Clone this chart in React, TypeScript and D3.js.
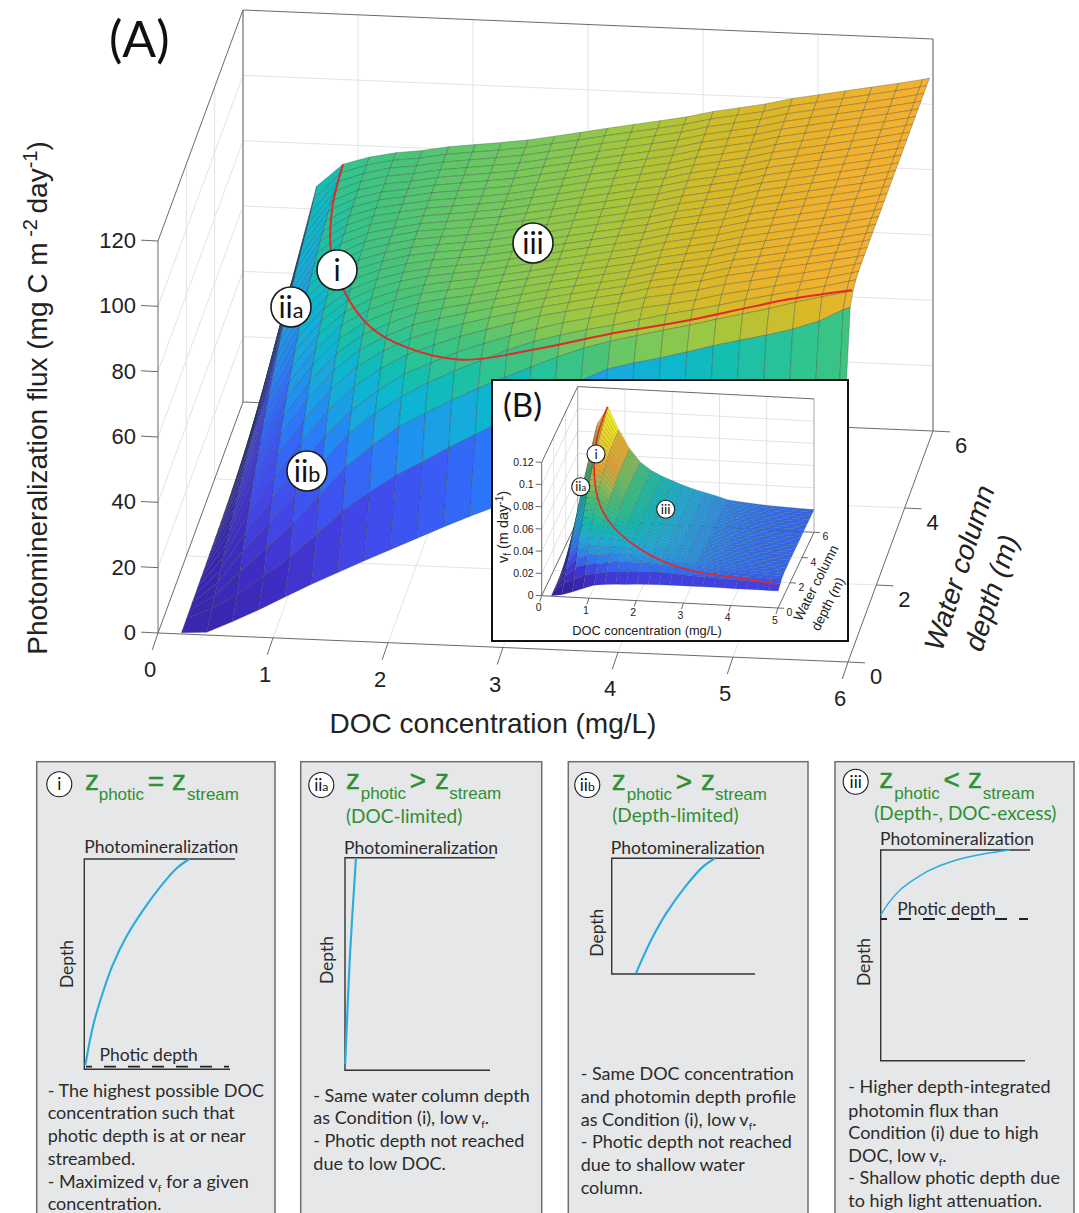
import React from 'react';
import * as d3 from 'd3';

const SANS = '"Liberation Sans", Arial, sans-serif';
const BODY = 'Lato, "Open Sans", sans-serif';
const GREEN = '#2f8f35';

// water column depth of every mesh row (m)
const DEPTHS = [0.03, 0.4, 0.6, 0.8, 1, 1.2, 1.4, 1.6, 1.8, 2, 2.2, 2.4, 2.6, 2.8, 3, 3.2, 3.4, 3.6, 3.8, 4, 4.2, 4.4, 4.6, 4.8, 5, 5.2, 5.4, 5.6, 5.8, 6];
const DOC_GRID = [0.2, 0.42, 0.64, 0.87, 1.1, 1.33, 1.56, 1.79, 2.02, 2.25, 2.48, 2.71, 2.94, 3.17, 3.4, 3.63, 3.86, 4.09, 4.32, 4.55, 4.78, 5.01, 5.24, 5.47, 5.7, 5.91, 5.97];

// flux per DOC column, one value per depth row. A column stops once it is on
// its plateau, the last value then holds for the deeper rows.
const FLUX_COLS = [
  [0, 0.1, 0.2, 0.3, 0.3, 0.4, 0.5, 0.5, 0.6, 0.7, 0.7, 0.8, 0.9, 0.9, 1, 1.1, 1.1, 1.2, 1.3, 1.3, 1.4, 1.5, 1.5, 1.6, 1.7, 1.7, 1.8, 1.9, 1.9, 2],
  [0.5, 3.4, 5, 6.6, 8.1, 9.7, 11.1, 12.6, 14, 15.4, 16.7, 18, 19.3, 20.5, 21.8, 23, 24.1, 25.3, 26.4, 27.4, 28.5, 29.5, 30.5, 31.5, 32.5, 33.4, 34.3, 35.2, 36.1, 37],
  [4, 8, 12.8, 16.6, 20.2, 23.6, 26.8, 29.7, 32.5, 35.2, 37.7, 40, 42.2, 44.3, 46.3, 48.1, 49.9, 51.5, 53.1, 54.5, 55.9, 57.2, 58.4, 59.5, 60.6, 61.6, 62.6, 63.8, 65.3, 67],
  [8, 14.1, 20.2, 25.7, 30.7, 35.2, 39.3, 43, 46.3, 49.3, 52, 54.5, 56.7, 58.8, 60.6, 62.3, 63.8, 65.1, 66.3, 67.4, 68.4, 69.4, 70.2, 70.9, 71.6, 72.2, 72.8, 73.3, 73.7, 74.1],
  [12.3, 20.1, 28.1, 35, 40.9, 46, 50.4, 54.2, 57.4, 60.2, 62.6, 64.7, 66.5, 68, 69.3, 70.5, 71.4, 72.3, 73, 73.6, 74.2, 74.6, 75, 75.4, 75.7, 75.9, 76.2, 76.3, 76.5, 76.6],
  [16.5, 27.5, 37, 44.5, 50.5, 55.7, 60, 63.4, 66.2, 68.5, 70.4, 71.9, 73.1, 74.1, 74.9, 75.6, 76.1, 76.6, 76.9, 77.2, 77.5, 77.7, 77.8, 77.9, 78, 78.1, 78.2, 78.3],
  [20.5, 35, 46, 54, 58.7, 63.6, 67.3, 70.2, 72.4, 74, 75.3, 76.3, 77.1, 77.6, 78.1, 78.4, 78.7, 78.9, 79, 79.1, 79.2, 79.3],
  [24.4, 41, 53, 60.5, 65, 69.5, 72.5, 74.7, 76.3, 77.6, 78.5, 79.2, 79.7, 80, 80.3, 80.5, 80.6, 80.7, 80.8],
  [28.2, 46.5, 59, 66, 70.5, 74.1, 76.7, 78.4, 79.5, 80.3, 80.9, 81.2, 81.5, 81.6, 81.8],
  [32, 51, 63.5, 70.5, 74.2, 77.3, 79.4, 80.7, 81.5, 82.1, 82.4, 82.6, 82.8],
  [35.8, 55.7, 67.8, 74.5, 77.8, 80.3, 81.8, 82.7, 83.2, 83.5, 83.7, 83.9],
  [39.4, 60, 71.8, 78, 80.8, 82.8, 84, 84.7, 85, 85.2, 85.4],
  [42.8, 64.5, 75.5, 81.5, 83.5, 85.1, 86, 86.5, 86.7, 86.9],
  [46, 69.5, 79, 84.5, 86, 87.6, 88, 88.3, 88.5],
  [49, 74, 82.5, 86.8, 88.2, 89.3, 89.7, 90],
  [52, 78, 85.5, 88.8, 90, 91, 91.5],
  [55, 81.8, 88, 90.5, 91.8, 92.6, 93],
  [58, 84, 90, 92.5, 93.8, 94.6, 95],
  [60.5, 85.9, 92, 94.5, 95.3, 96, 96.5],
  [63, 88, 93.9, 96.2, 96.9, 97.6, 98],
  [65.5, 90.3, 96, 98, 98.9, 99.6, 100],
  [68, 92.3, 98, 100, 100.5, 101.1, 101.5],
  [70, 94.2, 100, 101.8, 102.2, 102.7, 103],
  [72, 96.4, 102.3, 103.5, 103.9, 104.2, 104.5],
  [74, 99.2, 104.3, 105.2, 105.5, 105.8, 106],
  [76, 103, 106, 107, 107.2, 107.4, 107.5],
  [76.5, 103.8, 106.5, 107.5, 107.8, 108],
];

// photic depth = stream depth line on the main surface
const RED_DOC = [0.87, 0.9, 1, 1.22, 1.6, 1.98, 2.53, 3.24, 3.83, 4.5, 4.97, 5.43, 5.98];
const RED_DEPTH = [6, 5, 4.1, 3.2, 2, 1.4, 0.8, 0.7, 0.6, 0.54, 0.53, 0.53, 0.45];
const RED_FLUX = [74, 72.6, 70.2, 69, 72.5, 74, 78, 83.7, 90, 95.7, 100, 104, 108.5];

const DOC_TICKS = [0, 1, 2, 3, 4, 5, 6];
const DEPTH_TICKS = [0, 2, 4, 6];
const FLUX_TICKS = [0, 20, 40, 60, 80, 100, 120];

// inset: vf in 10^-3 m/day, same depth rows, DOC columns up to 5 mg/L
const VF_DOC = DOC_GRID.slice(0, 21).concat([5]);
const VF_COLS = [
  [0, 0.3, 0.4, 0.5, 0.7, 0.8, 0.9, 1.1, 1.2, 1.3, 1.5, 1.6, 1.7, 1.9, 2, 2.1, 2.3, 2.4, 2.5, 2.7, 2.8, 2.9, 3.1, 3.2, 3.3, 3.5, 3.6, 3.7, 3.9, 4],
  [1.5, 8.1, 11.9, 15.7, 19.3, 23.1, 26.4, 30, 33.3, 36.7, 39.8, 42.9, 46, 48.8, 51.9, 54.8, 57.4, 60.2, 62.9, 65.2, 67.9, 70.2, 72.6, 75, 77.4, 79.5, 81.7, 83.8, 86, 88.1],
  [4.5, 11.5, 20, 25.9, 31.6, 36.9, 41.9, 46.4, 50.8, 55, 58.9, 62.5, 65.9, 69.2, 72.3, 75.2, 78, 80.5, 83, 85.2, 87.3, 89.4, 91.3, 93, 94.7, 96.3, 97.8, 99.2, 101, 103],
  [8, 16.2, 23.2, 29.5, 35.3, 40.5, 45.2, 49.4, 53.2, 56.7, 59.8, 62.6, 65.2, 67.6, 69.7, 71.6, 73.3, 74.8, 76.2, 77.5, 78.6, 79.6, 80.4, 81, 81.6, 82, 82.4, 82.7, 82.9, 83],
  [11.4, 17.8, 24.4, 30.4, 35.6, 40, 43.8, 47.2, 50, 52.4, 54.5, 56.3, 57.9, 59.2, 60.3, 61.3, 62.1, 62.9, 63.5, 64, 64.6, 64.9, 65.3, 65.6, 65.9, 66, 66.3, 66.4, 66.5, 66.6],
  [12.6, 19.5, 25.8, 31.1, 35.6, 39.3, 42.3, 44.7, 46.7, 48.3, 49.6, 50.7, 51.5, 52.2, 52.8, 53.3, 53.7, 54, 54.2, 54.4, 54.6, 54.8, 54.9, 55],
  [13.3, 21, 27.5, 32.5, 35.5, 38.5, 40.7, 42.5, 43.8, 44.8, 45.6, 46.2, 46.6, 47, 47.3, 47.4, 47.6, 47.7, 47.9, 48],
  [13.8, 21.5, 27.2, 31.5, 34.4, 36.8, 38.6, 39.9, 40.8, 41.5, 42, 42.4, 42.6, 43, 43.3],
  [14.4, 22, 27.6, 31.5, 33.8, 35.7, 37, 37.8, 38.3, 38.7, 39, 39.3, 39.5],
  [14.8, 22, 27.3, 30.4, 32.2, 33.5, 34.5, 35, 35.4, 35.8, 36],
  [15, 22, 26.5, 29.3, 30.6, 31.6, 32.1, 32.5, 32.8, 33],
  [15.1, 21.4, 25.5, 27.8, 28.9, 29.6, 30, 30.3, 30.5],
  [15.2, 20.8, 24.5, 26.4, 27.2, 27.7, 28, 28.2],
  [15.2, 20.3, 23.2, 24.3, 24.8, 25, 25.2, 25.3],
  [15.2, 20, 22.4, 23.4, 23.8, 24, 24.1, 24.2],
  [15.2, 19.5, 21.5, 22.5, 22.9, 23, 23.2, 23.3],
  [15.1, 19, 20.9, 21.7, 22.1, 22.3, 22.5],
  [15, 18.6, 20.3, 21.1, 21.5, 21.8, 21.9],
  [15, 18.2, 19.9, 20.7, 21.1, 21.4, 21.5],
  [15, 17.9, 19.6, 20.4, 20.8, 21, 21.1],
  [15, 17.6, 19.3, 20.1, 20.5, 20.7, 20.8],
  [15, 17.3, 19, 19.8, 20.1, 20.3, 20.4],
];
const VF_RED_DOC = [0.63, 0.62, 0.8, 1.1, 1.4, 1.95, 2.5, 3.2, 4.05, 4.95];
const VF_RED_DEPTH = [6, 4.3, 2.46, 1.05, 0.9, 0.47, 0.56, 0.6, 0.57, 0.41];
const VF_RED_VALUE = [103.3, 94, 82.5, 72, 55, 43, 29.9, 21.9, 18.7, 16.6];
const INSET_DOC_TICKS = [0, 1, 2, 3, 4, 5];
const VF_TICKS = [0, 20, 40, 60, 80, 100, 120];
const VF_TICK_LABELS = ['0', '0.02', '0.04', '0.06', '0.08', '0.1', '0.12'];

const fluxColor = d3.scaleLinear<string>()
  .domain([0, 10, 20, 32, 40, 46, 54, 60, 65, 72, 78, 84, 90, 96, 102, 108])
  .range(['#3a27b0', '#402fc8', '#4345e6', '#3a5cf5', '#2c78fb', '#2090f0', '#18a8e0', '#0cb6d0', '#12bdb4', '#30c48e', '#48c47a', '#7cc858', '#a9c63a', '#d6ba28', '#edb22c', '#f6b030']);
const vfColor = d3.scaleLinear<string>()
  .domain([0, 10, 15, 20, 27, 35, 45, 52, 60, 70, 78, 88, 100])
  .range(['#33219f', '#3f2fc8', '#4040e0', '#3563ee', '#2c8ce0', '#20a8d8', '#10b8b0', '#2cbd8c', '#4cb870', '#9fb84a', '#e0a030', '#e8c428', '#f2ec1e']);

const held = (col: number[], row: number) => col[Math.min(row, col.length - 1)];
const seg = d3.line();

function Plot3D({ g, docs, cols, color, red, ticks }: any) {
  const sx = d3.scaleLinear().domain([0, g.xMax]).range([0, 1]);
  const sy = d3.scaleLinear().domain([0, g.yMax]).range([0, 1]);
  const sz = d3.scaleLinear().domain([0, g.zMax]).range([0, 1]);
  const p = (x: number, y: number, z: number): [number, number] => [
    g.origin[0] + sx(x) * g.ex[0] + sy(y) * g.ey[0],
    g.origin[1] + sx(x) * g.ex[1] + sy(y) * g.ey[1] + sz(z) * g.ez,
  ];
  const { xMax: X, yMax: Y, zMax: Z } = g;
  const gridLines: [number, number, number][][] = [];
  ticks.x.filter((t: number) => t > 0 && t < X).forEach((t: number) => {
    gridLines.push([[t, 0, 0], [t, Y, 0], [t, Y, Z]]);
  });
  ticks.y.filter((t: number) => t > 0 && t < Y).forEach((t: number) => {
    gridLines.push([[X, t, 0], [0, t, 0], [0, t, Z]]);
  });
  ticks.z.filter((t: number) => t > 0 && t < Z).forEach((t: number) => {
    gridLines.push([[0, 0, t], [0, Y, t], [X, Y, t]]);
  });
  const pathOf = (pts: [number, number, number][]) => seg(pts.map((q) => p(q[0], q[1], q[2])));

  // back rows first, then left to right, so nearer faces cover farther ones
  const faces: { d: string; fill: string }[] = [];
  for (let j = DEPTHS.length - 2; j >= 0; j--) {
    for (let i = 0; i < docs.length - 1; i++) {
      const corners = [
        p(docs[i], DEPTHS[j], held(cols[i], j)),
        p(docs[i + 1], DEPTHS[j], held(cols[i + 1], j)),
        p(docs[i + 1], DEPTHS[j + 1], held(cols[i + 1], j + 1)),
        p(docs[i], DEPTHS[j + 1], held(cols[i], j + 1)),
      ];
      faces.push({ d: seg(corners) + 'Z', fill: color(held(cols[i], j)) });
    }
  }
  const redPath = d3.line().curve(d3.curveCatmullRom.alpha(0.5))(red.doc.map((d: number, i: number) => p(d, red.depth[i], red.value[i])));

  return (
    <g fontFamily={SANS}>
      {gridLines.map((l, i) => <path key={i} d={pathOf(l)!} fill="none" stroke="#e2e3e4" strokeWidth={1} />)}
      <path d={pathOf([[0, Y, 0], [0, Y, Z]])!} stroke="#a9a9a9" strokeWidth={g.backWidth} fill="none" />
      <path d={pathOf([[X, Y, 0], [X, Y, Z]])!} stroke="#a9a9a9" strokeWidth={g.backWidth} fill="none" />
      <path d={pathOf([[0, 0, 0], [0, 0, Z], [0, Y, Z], [X, Y, Z]])!} stroke="#6a6a6a" strokeWidth={1} fill="none" />
      <path d={pathOf([[0, Y, 0], [0, 0, 0], [X, 0, 0], [X, Y, 0], [0, Y, 0]])!} stroke="#6a6a6a" strokeWidth={1} fill="none" />
      {ticks.x.map((t: number) => {
        const a = p(t, 0, 0);
        return (
          <g key={t}>
            <line x1={a[0]} y1={a[1]} x2={a[0] - g.tick * 0.34} y2={a[1] + g.tick} stroke="#6a6a6a" />
            <text x={a[0] + g.xLabel[0]} y={a[1] + g.xLabel[1]} fontSize={g.font} textAnchor="middle" fill="#222">{t}</text>
          </g>
        );
      })}
      {ticks.y.map((t: number) => {
        const a = p(X, t, 0);
        return (
          <g key={t}>
            <line x1={a[0]} y1={a[1]} x2={a[0] + g.tick} y2={a[1] + g.tick * 0.05} stroke="#6a6a6a" />
            <text x={a[0] + g.yLabel[0]} y={a[1] + g.yLabel[1]} fontSize={g.font} textAnchor="middle" fill="#222">{t}</text>
          </g>
        );
      })}
      {ticks.z.map((t: number, i: number) => {
        const a = p(0, 0, t);
        return (
          <g key={t}>
            <line x1={a[0]} y1={a[1]} x2={a[0] - g.tick} y2={a[1] - g.tick * 0.05} stroke="#6a6a6a" />
            <text x={a[0] + g.zLabel[0]} y={a[1] + g.zLabel[1]} fontSize={g.font} textAnchor="end" fill="#222">{ticks.zLabels[i]}</text>
          </g>
        );
      })}
      {faces.map((f, i) => <path key={i} d={f.d} fill={f.fill} stroke="#2b3b3b" strokeOpacity={0.5} strokeWidth={g.mesh} />)}
      <path d={redPath!} fill="none" stroke="#df2a2a" strokeWidth={g.redWidth} />
    </g>
  );
}

function Badge({ x, y, r, main, sub, size }: any) {
  return (
    <g>
      <circle cx={x} cy={y} r={r} fill="#fff" stroke="#1a1a1a" strokeWidth={r > 15 ? 1.6 : 1.1} />
      <text x={x} y={y + size * 0.36} textAnchor="middle" fontFamily={BODY} fontSize={size} fill="#111">
        {main}
        {sub && <tspan fontSize={size * 0.72}>{sub}</tspan>}
      </text>
    </g>
  );
}

// panel layouts, in page pixels
const PANELS = [
  {
    box: [36.7, 275], badge: ['i', ''], badgeAt: [59.3, 784.3], sign: '=',
    title: { z: 85, base: 790, sub: 98.7, subBase: 800, op: 156, z2: 172, sub2: 187 },
    axes: { left: 84.3, top: 859, topEnd: 235, bottom: 1069.3, bottomEnd: 230 },
    rateEnd: 189.3, head: [84.3, 852.7], depthLabel: [73, 964],
    rate: [0.01, 0.085, 0.18, 0.27, 0.4, 0.56, 0.75, 0.88, 1],
    depth: [0.98, 0.79, 0.63, 0.505, 0.37, 0.243, 0.116, 0.044, 0],
    dash: { y: 1066.7, x1: 86, x2: 229 }, photic: [99.5, 1061], width: 2.1,
    textX: 47.7,
    text: ['- The highest possible DOC', 'concentration such that', 'photic depth is at or near', 'streambed.', '- Maximized v_f for a given', 'concentration.'],
    base: [1096.7, 1119.3, 1142.3, 1165, 1187.7, 1210.3],
  },
  {
    box: [300.7, 541.7], badge: ['ii', 'a'], badgeAt: [321.3, 785], sign: '>', note: '(DOC-limited)', noteAt: [346, 822.7],
    title: { z: 346, base: 789, sub: 360.7, subBase: 799.3, op: 418, z2: 435, sub2: 449.3 },
    axes: { left: 345, top: 857.7, topEnd: 495, bottom: 1070.3, bottomEnd: 490 },
    rateEnd: 356, head: [344, 853.7], depthLabel: [333, 960],
    rate: [0.02, 0.45, 1],
    depth: [0.97, 0.46, 0],
    width: 2.1,
    textX: 313.3,
    text: ['- Same water column depth', 'as Condition (i), low v_f.', '- Photic depth not reached', 'due to low DOC.'],
    base: [1101.7, 1124.3, 1147.3, 1170],
  },
  {
    box: [568.3, 808], badge: ['ii', 'b'], badgeAt: [587.3, 785], sign: '>', note: '(Depth-limited)', noteAt: [612.3, 821.7],
    title: { z: 611.7, base: 790, sub: 626.7, subBase: 800, op: 684, z2: 701, sub2: 715 },
    axes: { left: 611.7, top: 858.3, topEnd: 760, bottom: 974, bottomEnd: 755 },
    rateEnd: 715, head: [610.7, 854.3], depthLabel: [603, 932.7],
    rate: [0.235, 0.306, 0.403, 0.532, 0.726, 0.887, 1],
    depth: [0.994, 0.85, 0.67, 0.47, 0.23, 0.07, 0],
    width: 2.1,
    textX: 580.7,
    text: ['- Same DOC concentration', 'and photomin depth profile', 'as Condition (i), low v_f.', '- Photic depth not reached', 'due to shallow water', 'column.'],
    base: [1080, 1102.7, 1125.7, 1148.3, 1171, 1193.7],
  },
  {
    box: [835, 1074], badge: ['iii', ''], badgeAt: [855.7, 781.7], sign: '<', note: '(Depth-, DOC-excess)', noteAt: [874.3, 820],
    title: { z: 879.3, base: 788, sub: 894.3, subBase: 799, op: 951.7, z2: 968, sub2: 982.7 },
    axes: { left: 880.7, top: 850, topEnd: 1030, bottom: 1060.7, bottomEnd: 1025 },
    rateEnd: 1010, head: [880, 845], depthLabel: [870, 962],
    rate: [0, 0.059, 0.149, 0.253, 0.381, 0.562, 0.794, 1],
    depth: [0.309, 0.253, 0.19, 0.142, 0.095, 0.052, 0.019, 0],
    dash: { y: 919, x1: 881, x2: 1028 }, photic: [897.3, 915], width: 1.4,
    textX: 848.3,
    text: ['- Higher depth-integrated', 'photomin flux than', 'Condition (i) due to high', 'DOC, low v_f.', '- Shallow photic depth due', 'to high light attenuation.'],
    base: [1093.3, 1116.7, 1139, 1161.7, 1184.3, 1207],
  },
];

function BodyLine({ x, y, text }: any) {
  const parts = text.split('_f');
  return (
    <text x={x} y={y} fontFamily={BODY} fontSize={18} fill="#2b2b2b">
      {parts[0]}
      {parts.length > 1 && <tspan dy={4} fontSize={10}>f</tspan>}
      {parts.length > 1 && <tspan dy={-4}>{parts[1]}</tspan>}
    </text>
  );
}

function Panel({ c }: any) {
  const { axes, title: t } = c;
  const rx = d3.scaleLinear().domain([0, 1]).range([axes.left, c.rateEnd]);
  const ry = d3.scaleLinear().domain([0, 1]).range([axes.top, axes.bottom]);
  const curve = d3.line<number>().x((d) => rx(d)).y((_, i) => ry(c.depth[i])).curve(d3.curveCatmullRom.alpha(0.5));
  return (
    <g>
      <rect x={c.box[0]} y={761.7} width={c.box[1] - c.box[0]} height={480} fill="#e6e7e8" stroke="#6d6e71" strokeWidth={1.5} />
      <Badge x={c.badgeAt[0]} y={c.badgeAt[1]} r={12.5} main={c.badge[0]} sub={c.badge[1]} size={17} />
      <g fill={GREEN} fontFamily={SANS}>
        <text x={t.z} y={t.base} fontSize={28} stroke={GREEN} strokeWidth={0.4}>z</text>
        <text x={t.sub} y={t.subBase} fontSize={17}>photic</text>
        <text x={t.op} y={t.base + 1} fontSize={28} textAnchor="middle" stroke={GREEN} strokeWidth={0.5}>{c.sign}</text>
        <text x={t.z2} y={t.base} fontSize={28} stroke={GREEN} strokeWidth={0.4}>z</text>
        <text x={t.sub2} y={t.subBase} fontSize={17}>stream</text>
      </g>
      {c.note && <text x={c.noteAt[0]} y={c.noteAt[1]} fontFamily={BODY} fontSize={19} fill={GREEN}>{c.note}</text>}
      <path d={`M${axes.topEnd},${axes.top}H${axes.left}V${axes.bottom}H${axes.bottomEnd}`} fill="none" stroke="#333" strokeWidth={1.4} />
      <path d={curve(c.rate)!} fill="none" stroke="#29abe2" strokeWidth={c.width} />
      {c.dash && <line x1={c.dash.x1} x2={c.dash.x2} y1={c.dash.y} y2={c.dash.y} stroke="#222" strokeWidth={1.8} strokeDasharray="12 12" strokeDashoffset={6} />}
      <text x={c.head[0]} y={c.head[1]} fontFamily={BODY} fontSize={17.5} fill="#2b2b2b">Photomineralization</text>
      {c.photic && <text x={c.photic[0]} y={c.photic[1]} fontFamily={BODY} fontSize={17.5} fill="#2b2b2b">Photic depth</text>}
      <text transform={`translate(${c.depthLabel[0]},${c.depthLabel[1]}) rotate(-90)`} textAnchor="middle" fontFamily={BODY} fontSize={17.5} fill="#2b2b2b">Depth</text>
      {c.text.map((line: string, i: number) => <BodyLine key={i} x={c.textX} y={c.base[i]} text={line} />)}
    </g>
  );
}

const MAIN_GEOM = {
  xMax: 6, yMax: 6, zMax: 120, origin: [158, 633], ex: [690, 29], ey: [85, -231], ez: -392,
  tick: 17, font: 22, xLabel: [-8, 44], yLabel: [28, 22], zLabel: [-22, 7], mesh: 0.6, redWidth: 2, backWidth: 2,
};
const INSET_GEOM = {
  xMax: 5, yMax: 6, zMax: 120, origin: [541.7, 595.7], ex: [236.3, 12.3], ey: [36, -75.7], ez: -133.4,
  tick: 6, font: 10.5, xLabel: [-3, 15.5], yLabel: [11.5, 8], zLabel: [-8, 3.5], mesh: 0.35, redWidth: 1.6, backWidth: 1,
};

export default function App() {
  return (
    <svg width={1079} height={1213} style={{ position: 'absolute', left: 0, top: 0, background: '#fff' }}>
      <Plot3D
        g={MAIN_GEOM}
        docs={DOC_GRID}
        cols={FLUX_COLS}
        color={fluxColor}
        red={{ doc: RED_DOC, depth: RED_DEPTH, value: RED_FLUX }}
        ticks={{ x: DOC_TICKS, y: DEPTH_TICKS, z: FLUX_TICKS, zLabels: FLUX_TICKS }}
      />
      <text x={109} y={57} fontFamily={BODY} fontSize={50} fill="#111">(A)</text>
      <text x={493} y={733} fontFamily={SANS} fontSize={28} textAnchor="middle" fill="#222">DOC concentration (mg/L)</text>
      <text transform="translate(47,398) rotate(-90)" fontFamily={SANS} fontSize={28} textAnchor="middle" fill="#222">
        Photomineralization flux (mg C m
        <tspan dy={-10} fontSize={20}> -2 </tspan>
        <tspan dy={10}>day</tspan>
        <tspan dy={-10} fontSize={20}>-1</tspan>
        <tspan dy={10}>)</tspan>
      </text>
      <text transform="translate(968,572) rotate(-72) skewX(-10)" fontFamily={SANS} fontSize={28} textAnchor="middle" fill="#222">Water column</text>
      <text transform="translate(1000,597) rotate(-72) skewX(-10)" fontFamily={SANS} fontSize={28} textAnchor="middle" fill="#222">depth (m)</text>
      <Badge x={337} y={270} r={20} main="i" size={30} />
      <Badge x={533} y={243} r={20} main="iii" size={30} />
      <Badge x={291} y={307} r={20} main="ii" sub="a" size={30} />
      <Badge x={307} y={471} r={20} main="ii" sub="b" size={30} />

      <rect x={492} y={380} width={356} height={261} fill="#fff" stroke="#111" strokeWidth={2} />
      <Plot3D
        g={INSET_GEOM}
        docs={VF_DOC}
        cols={VF_COLS}
        color={vfColor}
        red={{ doc: VF_RED_DOC, depth: VF_RED_DEPTH, value: VF_RED_VALUE }}
        ticks={{ x: INSET_DOC_TICKS, y: DEPTH_TICKS, z: VF_TICKS, zLabels: VF_TICK_LABELS }}
      />
      <text x={503} y={417} fontFamily={BODY} fontSize={33} fill="#111">(B)</text>
      <text x={647} y={635} fontFamily={SANS} fontSize={12.8} textAnchor="middle" fill="#222">DOC concentration (mg/L)</text>
      <text transform="translate(508,527) rotate(-90)" fontFamily={SANS} fontSize={14.5} textAnchor="middle" fill="#222">
        v<tspan dy={3} fontSize={10}>f</tspan>
        <tspan dy={-3}> (m day</tspan>
        <tspan dy={-5} fontSize={10}>-1</tspan>
        <tspan dy={5}>)</tspan>
      </text>
      <text transform="translate(820,585) rotate(-63)" fontFamily={SANS} fontSize={13.5} textAnchor="middle" fill="#222">Water column</text>
      <text transform="translate(832,606) rotate(-63)" fontFamily={SANS} fontSize={13.5} textAnchor="middle" fill="#222">depth (m)</text>
      <Badge x={596} y={454} r={9} main="i" size={13.5} />
      <Badge x={580.7} y={486.7} r={9} main="ii" sub="a" size={13} />
      <Badge x={665.7} y={509.3} r={9} main="iii" size={13.5} />

      {PANELS.map((c, i) => <Panel key={i} c={c} />)}
    </svg>
  );
}
